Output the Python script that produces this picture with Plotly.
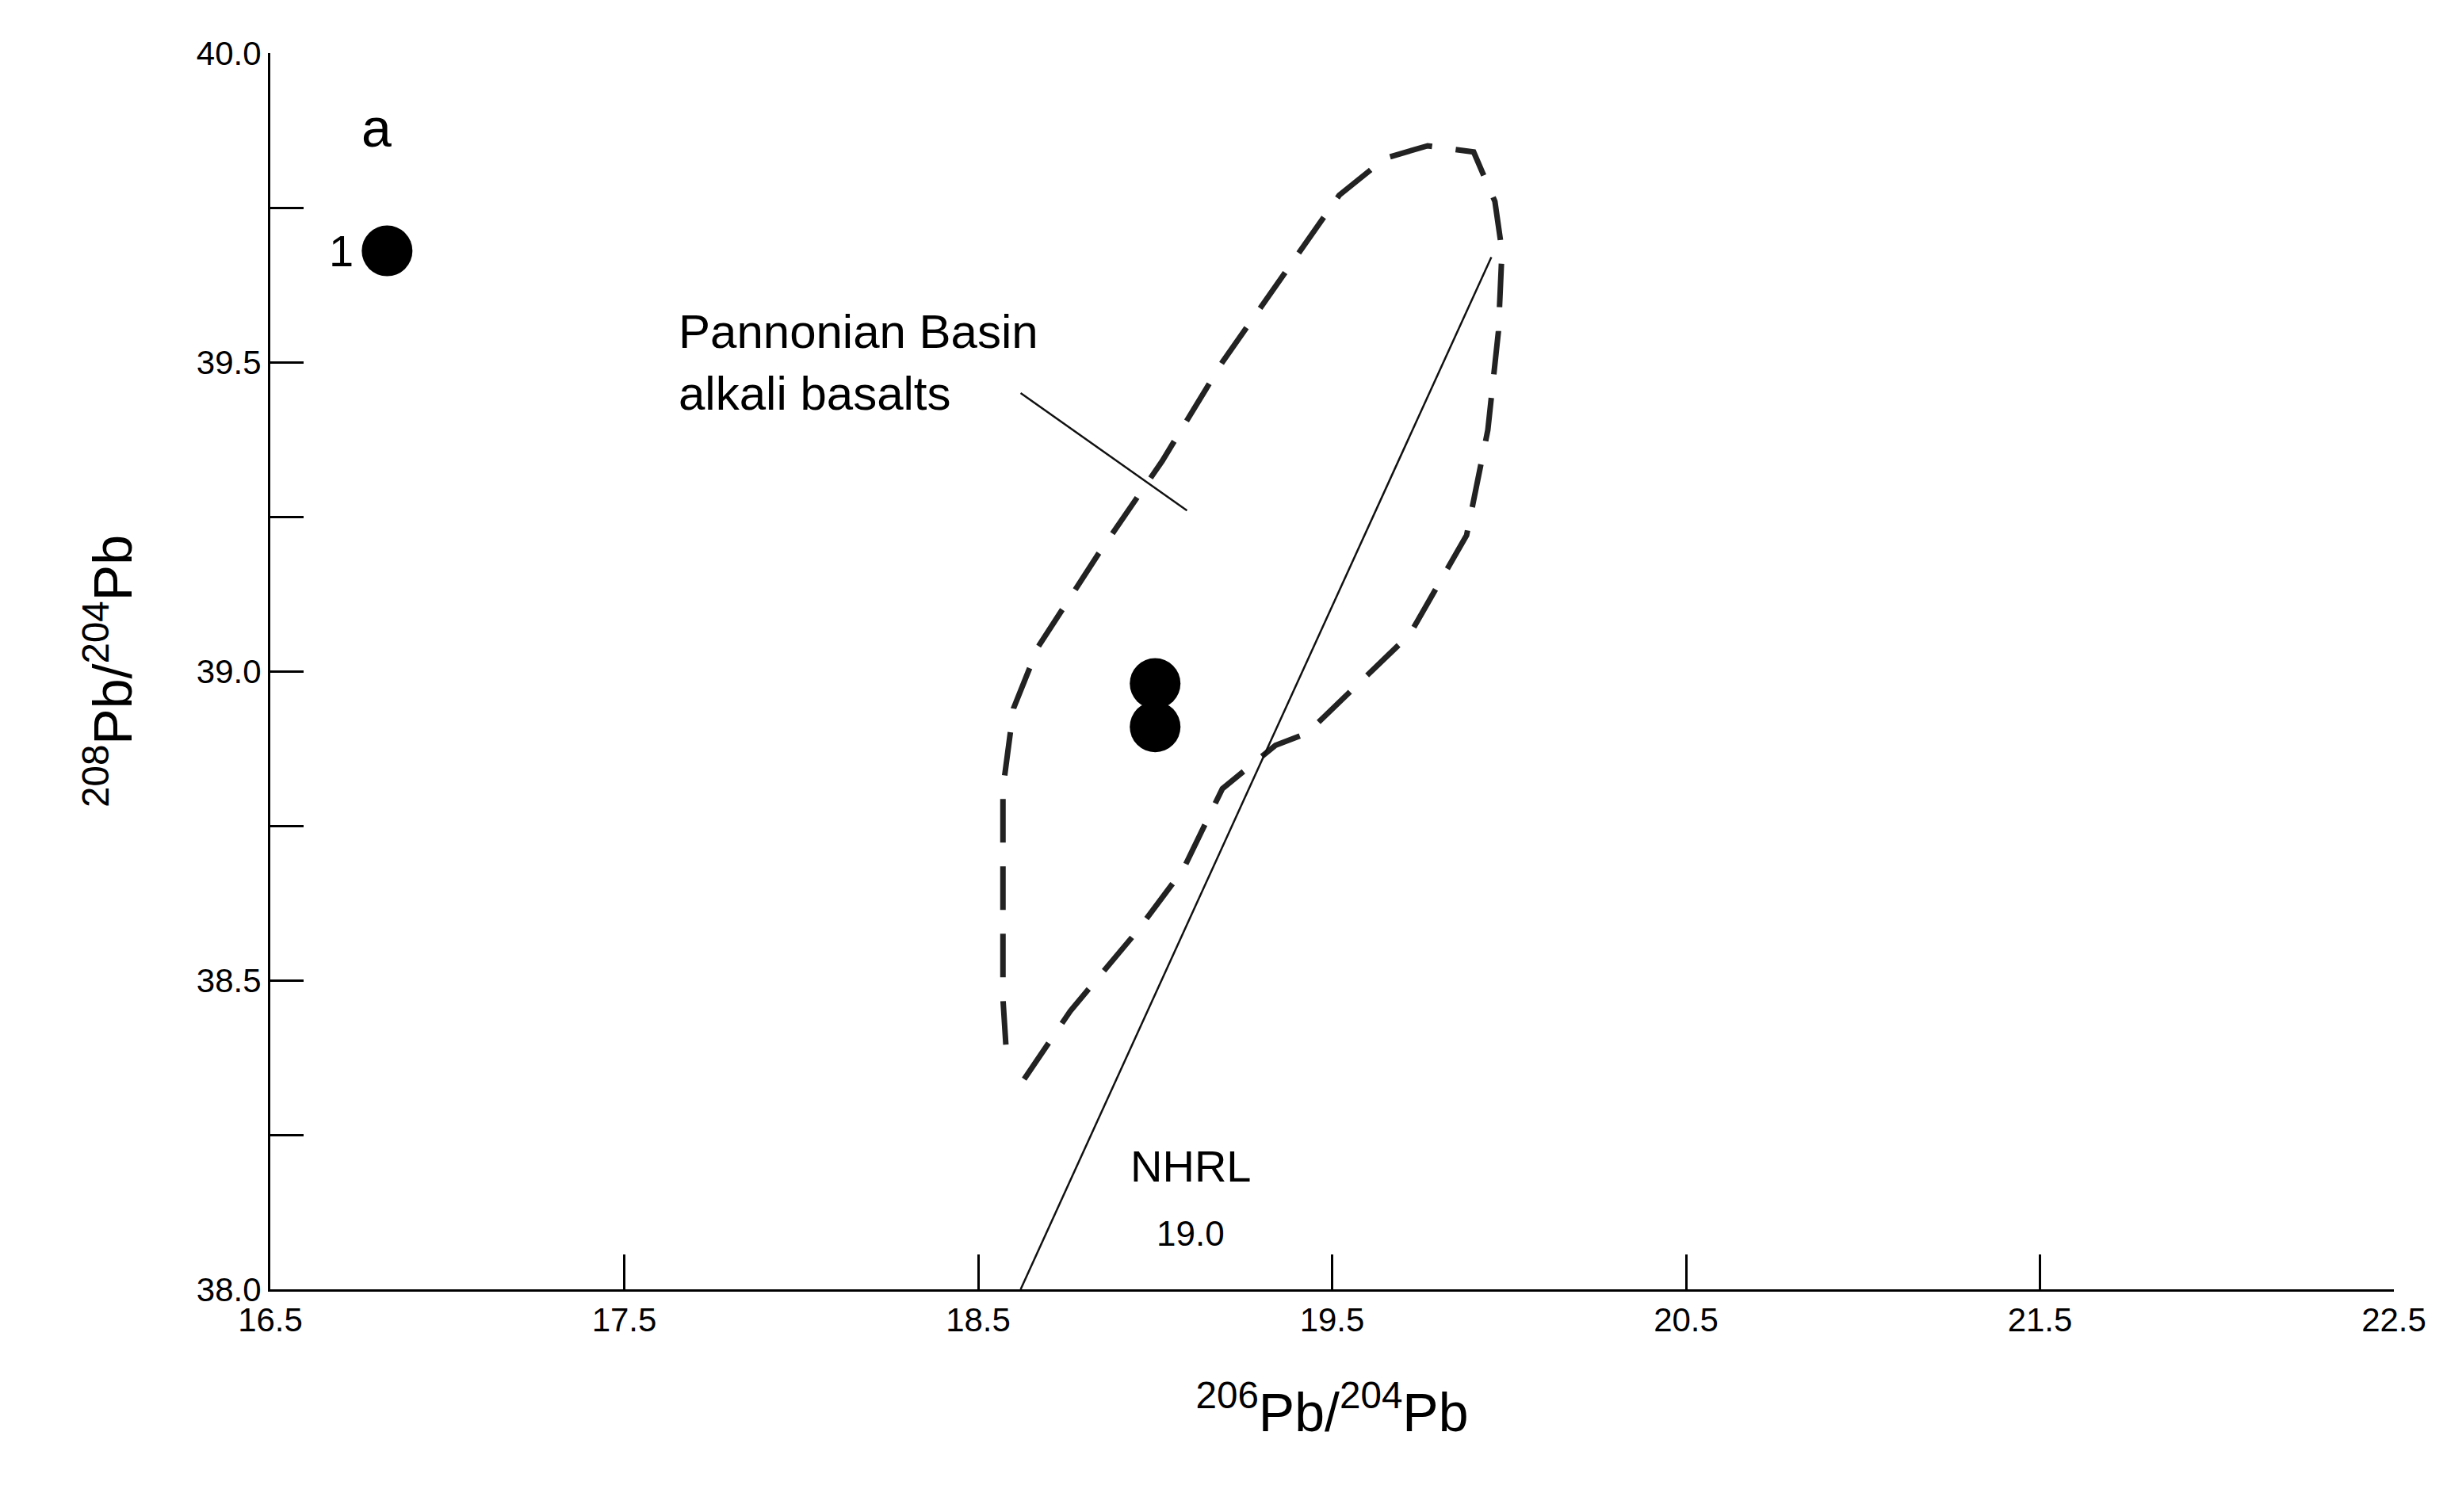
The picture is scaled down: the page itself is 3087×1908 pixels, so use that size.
import plotly.graph_objects as go

samples_x = [16.83, 19.0, 19.0]
samples_y = [39.68, 38.98, 38.91]

field_x = [18.63, 18.76, 18.95, 19.08, 19.19, 19.34, 19.43, 19.54, 19.72, 19.88, 19.94, 19.97,
           19.98, 19.96, 19.90, 19.77, 19.65, 19.52, 19.41, 19.19, 19.02, 18.84, 18.67, 18.60, 18.57,
           18.57, 18.57, 18.58]
field_y = [38.34, 38.45, 38.58, 38.68, 38.81, 38.88, 38.90, 38.96, 39.06, 39.22, 39.39, 39.55,
           39.68, 39.76, 39.84, 39.85, 39.83, 39.77, 39.68, 39.50, 39.34, 39.19, 39.04, 38.94, 38.81,
           38.60, 38.47, 38.38]

nhrl_x = [18.62, 19.95]
nhrl_y = [38.0, 39.67]
leader_x = [18.62, 19.09]
leader_y = [39.45, 39.26]

xticks = [16.5, 17.5, 18.5, 19.5, 20.5, 21.5, 22.5]
yticks = [38.0, 38.25, 38.5, 38.75, 39.0, 39.25, 39.5, 39.75, 40.0]
ytext = ["38.0", "", "38.5", "", "39.0", "", "39.5", "", "40.0"]

font = "Liberation Sans, Arial, sans-serif"
fig = go.Figure()
fig.add_trace(go.Scatter(x=field_x, y=field_y, mode="lines",
                         line=dict(color="#222", width=7, dash="55px,30px")))
fig.add_trace(go.Scatter(x=nhrl_x, y=nhrl_y, mode="lines", line=dict(color="#111", width=2.5)))
fig.add_trace(go.Scatter(x=leader_x, y=leader_y, mode="lines", line=dict(color="#111", width=2.5)))
fig.add_trace(go.Scatter(x=samples_x, y=samples_y, mode="markers",
                         marker=dict(color="black", size=64)))

ann = [
    dict(x=16.8, y=39.88, text="a", size=68, xanchor="center"),
    dict(x=16.74, y=39.68, text="1", size=56, xanchor="right"),
    dict(x=17.65, y=39.55, text="Pannonian Basin", size=60, xanchor="left"),
    dict(x=17.65, y=39.45, text="alkali basalts", size=60, xanchor="left"),
    dict(x=19.1, y=38.2, text="NHRL", size=56, xanchor="center"),
    dict(x=19.1, y=38.09, text="19.0", size=44, xanchor="center"),
]
for a in ann:
    fig.add_annotation(x=a["x"], y=a["y"], text=a["text"], showarrow=False, xanchor=a["xanchor"],
                       font=dict(family=font, size=a["size"], color="black"))

fig.update_layout(
    width=3087, height=1908, showlegend=False,
    plot_bgcolor="white", paper_bgcolor="white",
    margin=dict(l=333, r=75, t=59, b=289),
    font=dict(family=font, color="black"),
    xaxis=dict(range=[16.5, 22.5], tickvals=xticks, ticktext=[f"{v:.1f}" for v in xticks],
               ticks="inside", ticklen=44, tickwidth=3, tickcolor="black",
               showline=True, linecolor="black", linewidth=3, showgrid=False, zeroline=False,
               tickfont=dict(size=42),
               title=dict(text="<sup>206</sup>Pb/<sup>204</sup>Pb", font=dict(size=68), standoff=70)),
    yaxis=dict(range=[38.0, 40.0], tickvals=yticks, ticktext=ytext,
               ticks="inside", ticklen=42, tickwidth=3, tickcolor="black",
               showline=True, linecolor="black", linewidth=3, showgrid=False, zeroline=False,
               tickfont=dict(size=42),
               title=dict(text="<sup>208</sup>Pb/<sup>204</sup>Pb", font=dict(size=68), standoff=60)),
)
fig.write_html("out.html")
